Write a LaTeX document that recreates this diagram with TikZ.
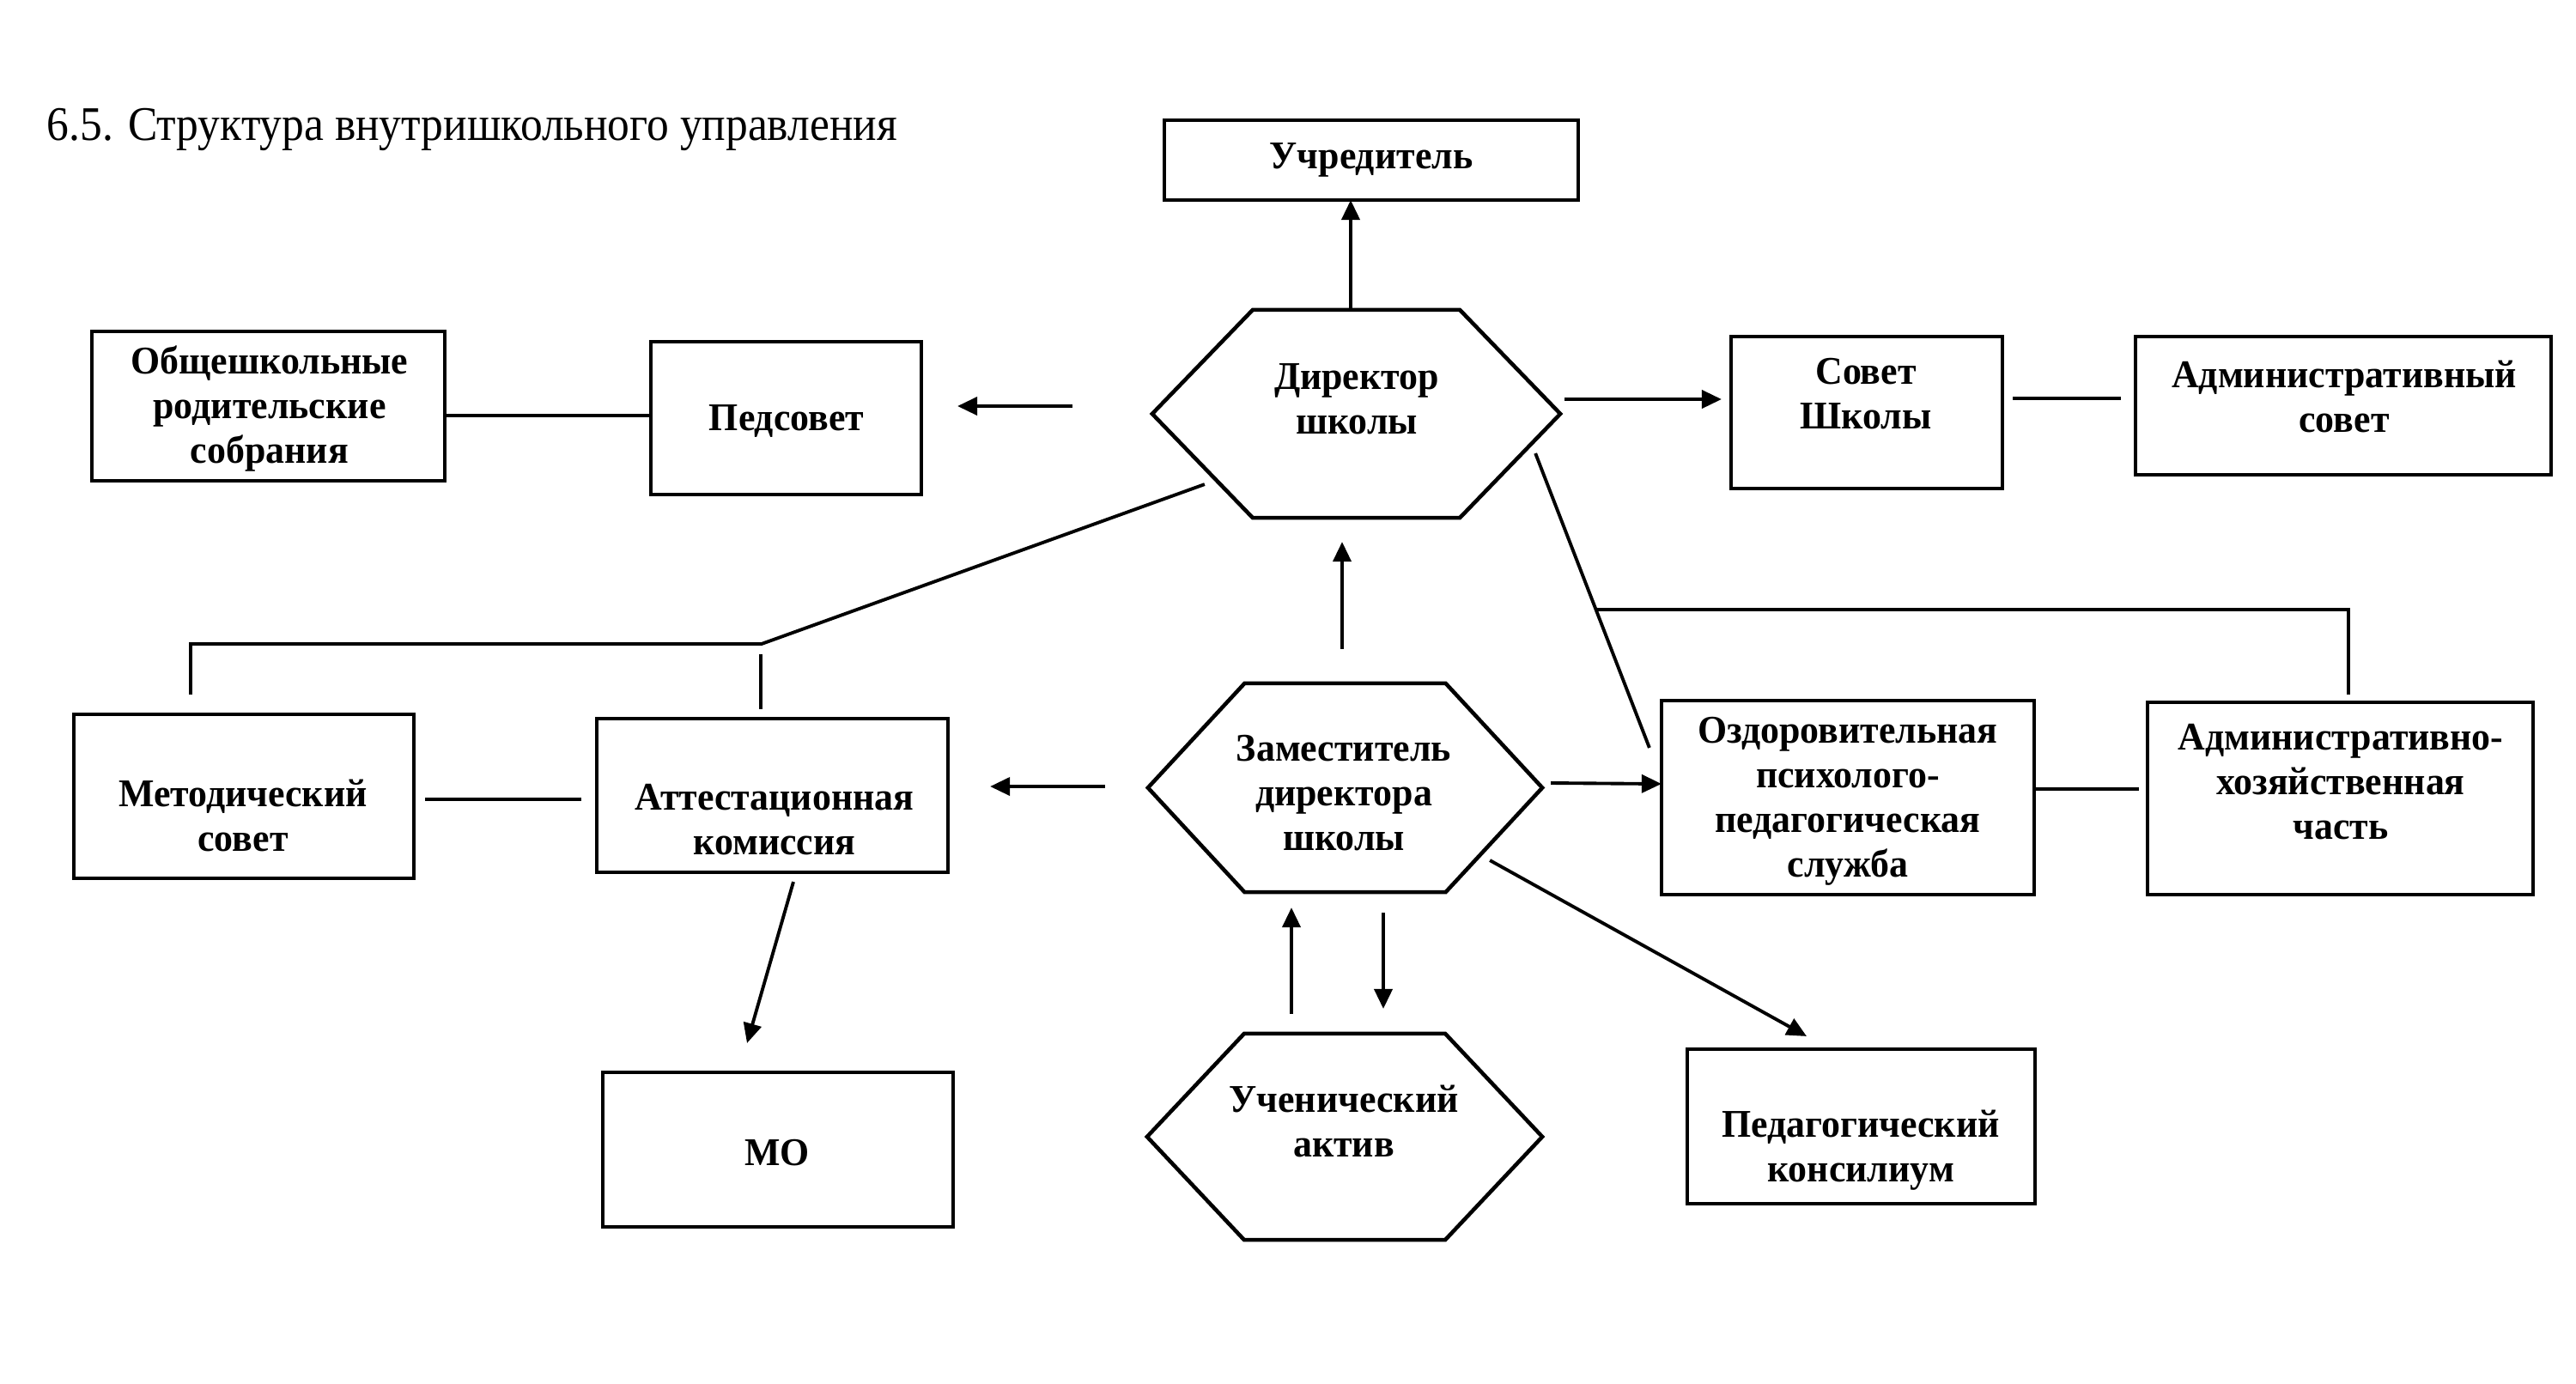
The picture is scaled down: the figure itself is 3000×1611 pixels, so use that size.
\documentclass[tikz,border=0pt]{standalone}
\usepackage{fontspec}
\setmainfont{Liberation Serif}
\newfontfamily\titlefont[FakeStretch=0.915]{Liberation Serif}
\newfontfamily\lblfont[FakeStretch=0.96]{Liberation Serif}
\usetikzlibrary{arrows.meta,calc}
\begin{document}
\begin{tikzpicture}[x=0.01cm,y=-0.01cm,
  box/.style={draw, line width=1.3pt, inner sep=0pt, outer sep=0pt},
  hexa/.style={inner sep=0pt, outer sep=0pt},
  hexline/.style={line width=1.3pt, line join=miter},
  lbl/.style={font=\lblfont\fontsize{13}{14.8}\selectfont\bfseries, align=center, inner sep=0pt},
  conn/.style={line width=1.1pt},
  arr/.style={conn, -{Triangle[length=0.23cm,width=0.21cm]}}]
\useasboundingbox (0,0) rectangle (3000,1611);
\fill[white] (0,0) rectangle (3000,1611);

% title
\node[anchor=base west, inner sep=0pt, font=\titlefont\fontsize{16}{19}\selectfont] (title) at (54,163) {6.5. Структура внутришкольного управления};

% boxes
\node[box, minimum width=4.82cm, minimum height=0.93cm] (uchr) at (1597,186.5) {};
\node[box, minimum width=4.11cm, minimum height=1.74cm] (obs) at (312.5,473) {};
\node[box, minimum width=3.15cm, minimum height=1.78cm] (ped) at (915.5,487) {};
\node[box, minimum width=3.16cm, minimum height=1.77cm] (sov) at (2174,480.5) {};
\node[box, minimum width=4.84cm, minimum height=1.61cm] (adm) at (2729,472.5) {};
\node[box, minimum width=3.96cm, minimum height=1.91cm] (met) at (284,927.5) {};
\node[box, minimum width=4.09cm, minimum height=1.79cm] (att) at (899.5,926.5) {};
\node[box, minimum width=4.34cm, minimum height=2.26cm] (ozd) at (2152,929) {};
\node[box, minimum width=4.49cm, minimum height=2.24cm] (ahc) at (2725.5,930) {};
\node[box, minimum width=4.05cm, minimum height=1.80cm] (kons) at (2167.5,1312) {};
\node[box, minimum width=4.08cm, minimum height=1.80cm] (mo) at (906,1339) {};

% hexagons
\node[hexa, minimum width=4.75cm, minimum height=2.42cm] (dir) at (1579.5,482) {};
\node[hexa, minimum width=4.59cm, minimum height=2.43cm] (dep) at (1566.5,917.5) {};
\node[hexa, minimum width=4.60cm, minimum height=2.40cm] (uch) at (1566,1324) {};
\draw[hexline] (dir.west) -- ($(dir.north west)+(117,0)$) -- ($(dir.north east)+(-117,0)$) -- (dir.east) -- ($(dir.south east)+(-117,0)$) -- ($(dir.south west)+(117,0)$) -- cycle;
\draw[hexline] (dep.west) -- ($(dep.north west)+(112.5,0)$) -- ($(dep.north east)+(-112.5,0)$) -- (dep.east) -- ($(dep.south east)+(-112.5,0)$) -- ($(dep.south west)+(112.5,0)$) -- cycle;
\draw[hexline] (uch.west) -- ($(uch.north west)+(113,0)$) -- ($(uch.north east)+(-113,0)$) -- (uch.east) -- ($(uch.south east)+(-113,0)$) -- ($(uch.south west)+(113,0)$) -- cycle;

% labels
\node[lbl] (uchr-t) at (1597,186) {Учредитель};
\node[lbl] (dir-t) at (1580,465) {Директор\\школы};
\node[lbl] (sov-t) at (2173,459) {Совет\\Школы};
\node[lbl] (adm-t) at (2730,462) {Административный\\совет};
\node[lbl] (obs-t) at (314,476) {Общешкольные\\родительские\\собрания};
\node[lbl] (ped-t) at (916,490) {Педсовет};
\node[lbl] (met-t) at (283,950) {Методический\\совет};
\node[lbl] (att-t) at (902,955) {Аттестационная\\комиссия};
\node[lbl] (dep-t) at (1565,924) {Заместитель\\директора\\школы};
\node[lbl] (ozd-t) at (2152,933) {Оздоровительная\\психолого-\\педагогическая\\служба};
\node[lbl] (ahc-t) at (2726,911) {Административно-\\хозяйственная\\часть};
\node[lbl] (uch-t) at (1565,1306) {Ученический\\актив};
\node[lbl] (kons-t) at (2167,1340) {Педагогический\\консилиум};
\node[lbl] (mo-t) at (905,1343) {МО};

% connector end points
\coordinate (d1) at ($(dir.south west)+(61,-39)$);
\coordinate (j1) at ($(att.north)+(-12.5,-87)$);
\coordinate (m1) at ($(met.north)+(-62,-23)$);
\coordinate (d2s) at ($(dir.east)+(-29,46)$);
\coordinate (d2e) at ($(ozd.north west)+(-14,55)$);
\coordinate (j2) at ($(d2s)!0.5306!(d2e)$);
\coordinate (a2) at ($(ahc.north)+(9.5,-9)$);

% connectors
\draw[arr] ($(dir.north)+(-6.5,0)$) -- ($(uchr.south)+(-24,0)$);
\draw[arr] ($(dir.west)+(-93,-9)$) -- ($(ped.east)+(42,-14)$);
\draw[conn] ($(obs.east)+(0,11)$) -- ($(ped.west)+(0,-3)$);
\draw[arr] ($(dir.east)+(5,-17)$) -- ($(sov.west)+(-11,-15.5)$);
\draw[conn] ($(sov.east)+(12,-16.5)$) -- ($(adm.west)+(-17,-8.5)$);
\draw[conn] (d1) -- (j1) -- (j1 -| m1) -- (m1);
\draw[conn] ($(att.north)+(-13.5,-75)$) -- ($(att.north)+(-13.5,-11)$);
\draw[conn] ($(met.east)+(13,3.5)$) -- ($(att.west)+(-18,4.5)$);
\draw[arr] ($(dep.west)+(-50,-1.5)$) -- ($(att.east)+(49,-10.5)$);
\draw[arr] ($(att.south)+(24.5,11)$) -- ($(mo.north)+(-36,-34)$);
\draw[arr] ($(dep.north)+(-3.5,-40)$) -- ($(dir.south)+(-16.5,28)$);
\draw[arr] ($(dep.east)+(10,-5.5)$) -- ($(ozd.west)+(0,-16)$);
\draw[conn] (d2s) -- (d2e);
\draw[conn] (j2) -- (j2 -| a2) -- (a2);
\draw[conn] ($(ozd.east)+(0,-10)$) -- ($(ahc.west)+(-10,-11)$);
\draw[arr] ($(dep.south east)+(-61,-37)$) -- ($(kons.north)+(-63.5,-15)$);
\draw[arr] ($(uch.north)+(-62,-23)$) -- ($(dep.south)+(-62.5,18)$);
\draw[arr] ($(dep.south)+(44.5,24)$) -- ($(uch.north)+(45,-29)$);
\end{tikzpicture}
\end{document}
